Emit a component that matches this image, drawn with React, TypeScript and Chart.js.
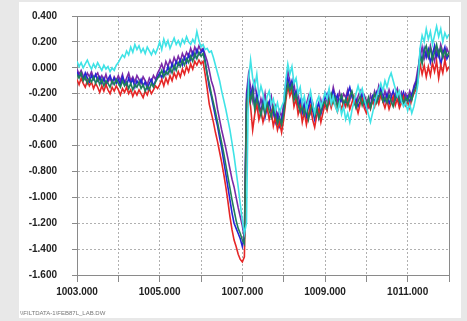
import React, { useEffect, useRef } from "react";
import { Chart, registerables } from "chart.js";

Chart.register(...registerables);

const X = [
  1003.0, 1003.05, 1003.1, 1003.15, 1003.2, 1003.25, 1003.3, 1003.35, 1003.4, 1003.45,
  1003.5, 1003.55, 1003.6, 1003.65, 1003.7, 1003.75, 1003.8, 1003.85, 1003.9, 1003.95,
  1004.0, 1004.05, 1004.1, 1004.15, 1004.2, 1004.25, 1004.3, 1004.35, 1004.4, 1004.45,
  1004.5, 1004.55, 1004.6, 1004.65, 1004.7, 1004.75, 1004.8, 1004.85, 1004.9, 1004.95,
  1005.0, 1005.05, 1005.1, 1005.15, 1005.2, 1005.25, 1005.3, 1005.35, 1005.4, 1005.45,
  1005.5, 1005.55, 1005.6, 1005.65, 1005.7, 1005.75, 1005.8, 1005.85, 1005.9, 1005.95,
  1006.0, 1006.05, 1006.1, 1006.15, 1006.2, 1006.25, 1006.3, 1006.35, 1006.4, 1006.45,
  1006.5, 1006.55, 1006.6, 1006.65, 1006.7, 1006.75, 1006.8, 1006.85, 1006.9, 1006.95,
  1007.0, 1007.05, 1007.1, 1007.15, 1007.2, 1007.25, 1007.3, 1007.35, 1007.4, 1007.45,
  1007.5, 1007.55, 1007.6, 1007.65, 1007.7, 1007.75, 1007.8, 1007.85, 1007.9, 1007.95,
  1008.0, 1008.05, 1008.1, 1008.15, 1008.2, 1008.25, 1008.3, 1008.35, 1008.4, 1008.45,
  1008.5, 1008.55, 1008.6, 1008.65, 1008.7, 1008.75, 1008.8, 1008.85, 1008.9, 1008.95,
  1009.0, 1009.05, 1009.1, 1009.15, 1009.2, 1009.25, 1009.3, 1009.35, 1009.4, 1009.45,
  1009.5, 1009.55, 1009.6, 1009.65, 1009.7, 1009.75, 1009.8, 1009.85, 1009.9, 1009.95,
  1010.0, 1010.05, 1010.1, 1010.15, 1010.2, 1010.25, 1010.3, 1010.35, 1010.4, 1010.45,
  1010.5, 1010.55, 1010.6, 1010.65, 1010.7, 1010.75, 1010.8, 1010.85, 1010.9, 1010.95,
  1011.0, 1011.05, 1011.1, 1011.15, 1011.2, 1011.25, 1011.3, 1011.35, 1011.4, 1011.45,
  1011.5, 1011.55, 1011.6, 1011.65, 1011.7, 1011.75, 1011.8, 1011.85, 1011.9, 1011.95,
  1012.0,
];

const CYAN = [
  0.05, 0.01, 0.04, 0.0, 0.03, 0.06, 0.02, -0.01, 0.03, 0.0,
  0.04, 0.01, -0.02, 0.02, -0.01, 0.01, -0.03, 0.0, -0.02, 0.02,
  0.04, 0.07, 0.1, 0.08, 0.13, 0.1, 0.16, 0.12, 0.18, 0.14,
  0.17, 0.12, 0.15, 0.11, 0.16, 0.13, 0.1, 0.14, 0.11, 0.15,
  0.2, 0.14, 0.22, 0.17, 0.21, 0.15, 0.19, 0.23, 0.18, 0.21,
  0.17, 0.22, 0.19, 0.24, 0.2, 0.18, 0.22, 0.19, 0.28, 0.21,
  0.16, 0.18, 0.14, 0.15, 0.12, 0.13, 0.08, 0.02, -0.04, -0.1,
  -0.18, -0.25, -0.32, -0.4, -0.48, -0.58, -0.68, -0.8, -0.92, -1.05,
  -1.18, -1.28, -1.2, -0.1, 0.06, -0.08, -0.15, -0.05, -0.22, -0.14,
  -0.2, -0.3, -0.22, -0.18, -0.28, -0.24, -0.33, -0.27, -0.35, -0.3,
  -0.26, -0.1, 0.03, -0.05, 0.01, -0.12, -0.08, -0.2, -0.15, -0.28,
  -0.22, -0.32, -0.25, -0.18, -0.28, -0.35, -0.26, -0.22, -0.3, -0.25,
  -0.19, -0.24, -0.16, -0.28, -0.22, -0.3, -0.34, -0.27, -0.36, -0.3,
  -0.4, -0.35, -0.42, -0.33, -0.26, -0.2, -0.14, -0.2, -0.16, -0.24,
  -0.3, -0.36, -0.42, -0.35, -0.28, -0.22, -0.17, -0.12, -0.18, -0.1,
  -0.15, -0.08, -0.04, -0.1, -0.16, -0.22, -0.18, -0.26, -0.3, -0.27,
  -0.33, -0.28, -0.35, -0.3, -0.22, -0.12, 0.15, 0.25, 0.2, 0.3,
  0.22, 0.28, 0.18, 0.25, 0.32, 0.24, 0.3, 0.2, 0.27, 0.23,
  0.26,
];

const GREEN = [
  -0.05, -0.08, -0.04, -0.1, -0.07, -0.12, -0.08, -0.11, -0.07, -0.12,
  -0.08, -0.13, -0.09, -0.14, -0.1, -0.12, -0.15, -0.1, -0.13, -0.09,
  -0.12, -0.15, -0.1, -0.14, -0.11, -0.16, -0.12, -0.17, -0.13, -0.15,
  -0.11, -0.16, -0.13, -0.18, -0.14, -0.17, -0.12, -0.15, -0.11, -0.08,
  -0.06, -0.02, -0.07, -0.03, -0.05, 0.0, -0.04, 0.02, -0.02, 0.04,
  0.01, 0.06, 0.02, 0.07, 0.04, 0.09, 0.05, 0.11, 0.07, 0.12,
  0.09, 0.11, 0.04, -0.05, -0.12, -0.2, -0.27, -0.34, -0.42, -0.5,
  -0.58, -0.66, -0.75, -0.84, -0.93, -1.02, -1.1, -1.18, -1.24, -1.28,
  -1.33, -1.36, -0.28, -0.14, -0.26, -0.18, -0.32, -0.24, -0.3, -0.37,
  -0.28, -0.35, -0.27, -0.33, -0.38, -0.3, -0.36, -0.43, -0.38, -0.44,
  -0.36, -0.22, -0.12, -0.18, -0.13, -0.25, -0.2, -0.28, -0.34, -0.29,
  -0.36, -0.3, -0.4, -0.33, -0.28, -0.37, -0.31, -0.39, -0.34, -0.28,
  -0.26, -0.31, -0.24, -0.2, -0.27, -0.23, -0.3, -0.25, -0.21, -0.28,
  -0.24, -0.29, -0.22, -0.18, -0.25, -0.31, -0.26, -0.22, -0.29, -0.24,
  -0.29, -0.23, -0.31, -0.25, -0.2, -0.27, -0.22, -0.19, -0.26, -0.23,
  -0.27, -0.21, -0.26, -0.3, -0.23, -0.19, -0.26, -0.22, -0.28, -0.23,
  -0.26, -0.21, -0.25, -0.18, -0.15, -0.08, 0.1, 0.03, 0.13, 0.17,
  0.09, 0.15, 0.06, 0.12, 0.18, 0.1, 0.15, 0.08, 0.13, 0.09,
  0.12,
];

const RED = [
  -0.09, -0.13, -0.08, -0.12, -0.15, -0.1, -0.14, -0.11, -0.16, -0.12,
  -0.15, -0.19, -0.14, -0.18, -0.13, -0.17, -0.2, -0.15, -0.18, -0.14,
  -0.17, -0.21, -0.16, -0.19, -0.15, -0.2, -0.17, -0.22, -0.18, -0.21,
  -0.17, -0.2, -0.23, -0.18, -0.21, -0.16, -0.2, -0.17, -0.14, -0.16,
  -0.13, -0.09, -0.14, -0.08, -0.12, -0.06, -0.1, -0.04, -0.08, -0.03,
  -0.07, -0.01, -0.05, 0.01, -0.03, 0.03, -0.01, 0.05, 0.02, 0.06,
  0.03, 0.05, -0.05, -0.16, -0.28, -0.35, -0.42, -0.5, -0.57, -0.65,
  -0.73, -0.82, -0.92, -1.03, -1.15, -1.25, -1.33, -1.38, -1.44, -1.48,
  -1.5, -1.46, -0.35, -0.2, -0.3, -0.48, -0.36, -0.28, -0.4, -0.33,
  -0.42, -0.35, -0.3, -0.4, -0.34, -0.45, -0.38, -0.48, -0.42, -0.5,
  -0.4, -0.26, -0.14, -0.22, -0.17, -0.3, -0.24, -0.36, -0.3, -0.42,
  -0.34, -0.44, -0.36, -0.3, -0.4, -0.46, -0.37, -0.32, -0.42, -0.35,
  -0.28, -0.33, -0.25, -0.31, -0.24, -0.29, -0.34, -0.27, -0.32, -0.26,
  -0.3, -0.24, -0.32, -0.27, -0.22, -0.29, -0.35, -0.28, -0.24, -0.31,
  -0.35, -0.28, -0.32, -0.25, -0.3, -0.23, -0.28, -0.21, -0.26, -0.31,
  -0.25, -0.32, -0.27, -0.22, -0.29, -0.24, -0.31, -0.27, -0.22, -0.29,
  -0.26, -0.31, -0.24, -0.2, -0.17, -0.1, 0.03, -0.05, 0.02, -0.07,
  0.01, -0.06, 0.04, -0.03, 0.05, -0.08, 0.02, -0.04, 0.06, -0.02,
  0.01,
];

const BLUE = [
  -0.03, -0.07, -0.05, -0.09, -0.04, -0.08, -0.11, -0.06, -0.09, -0.05,
  -0.1, -0.07, -0.12, -0.08, -0.13, -0.09, -0.06, -0.11, -0.08, -0.12,
  -0.09, -0.13, -0.07, -0.11, -0.14, -0.08, -0.12, -0.09, -0.15, -0.1,
  -0.13, -0.09, -0.14, -0.11, -0.16, -0.12, -0.09, -0.14, -0.1, -0.07,
  -0.04, -0.08, -0.02, -0.05, 0.01, -0.03, 0.03, -0.01, 0.05, 0.02,
  0.06, 0.02, 0.08, 0.04, 0.1, 0.06, 0.12, 0.08, 0.14, 0.1,
  0.12, 0.14, 0.06, -0.05, -0.15, -0.22, -0.3, -0.38, -0.45, -0.54,
  -0.62, -0.72, -0.82, -0.92, -1.02, -1.12, -1.2, -1.24, -1.28, -1.32,
  -1.38, -1.3, -0.25, -0.1, -0.22, -0.15, -0.3, -0.2, -0.28, -0.34,
  -0.25, -0.38, -0.3, -0.26, -0.35, -0.32, -0.42, -0.36, -0.45, -0.4,
  -0.33, -0.2, -0.08, -0.15, -0.1, -0.22, -0.18, -0.3, -0.25, -0.35,
  -0.28, -0.38, -0.3, -0.24, -0.33, -0.4, -0.32, -0.27, -0.36, -0.3,
  -0.24, -0.2, -0.27, -0.22, -0.18, -0.25, -0.21, -0.28, -0.23, -0.3,
  -0.26, -0.2, -0.15, -0.22, -0.28, -0.24, -0.3, -0.26, -0.2, -0.27,
  -0.32, -0.25, -0.29, -0.22, -0.27, -0.19, -0.24, -0.16, -0.21, -0.26,
  -0.2, -0.28, -0.23, -0.18, -0.25, -0.21, -0.28, -0.24, -0.19, -0.26,
  -0.22, -0.27, -0.2, -0.16, -0.12, -0.05, 0.12, 0.05, 0.15, 0.08,
  0.14, 0.04, 0.1, 0.17, 0.08, 0.13, 0.02, 0.11, 0.16, 0.07,
  0.1,
];

const PURPLE = [
  -0.01, -0.05, -0.02, -0.06, -0.09, -0.04, -0.07, -0.03, -0.08, -0.06,
  -0.04, -0.09, -0.06, -0.1, -0.05, -0.11, -0.08, -0.12, -0.07, -0.1,
  -0.06, -0.1, -0.05, -0.12, -0.08, -0.04, -0.1, -0.07, -0.11, -0.06,
  -0.09, -0.12, -0.07, -0.1, -0.13, -0.08, -0.11, -0.06, -0.09, -0.04,
  -0.01, 0.03, -0.02, 0.05, 0.01, 0.06, 0.02, 0.08, 0.04, 0.09,
  0.05, 0.11, 0.07, 0.12, 0.09, 0.15, 0.1, 0.16, 0.12, 0.17,
  0.13, 0.15, 0.1, 0.05, -0.02, -0.1, -0.15, -0.22, -0.32, -0.4,
  -0.48, -0.55, -0.62, -0.7, -0.78, -0.86, -0.92, -1.0, -1.08, -1.15,
  -1.22, -1.32, -0.2, -0.05, -0.15, -0.25, -0.12, -0.22, -0.32, -0.24,
  -0.3, -0.2, -0.33, -0.27, -0.22, -0.36, -0.3, -0.4, -0.33, -0.38,
  -0.28, -0.12, -0.02, -0.1, -0.18, -0.12, -0.25, -0.2, -0.32, -0.26,
  -0.35, -0.28, -0.22, -0.34, -0.27, -0.36, -0.29, -0.38, -0.25, -0.32,
  -0.2, -0.26, -0.18, -0.24, -0.15, -0.22, -0.27, -0.19, -0.25, -0.2,
  -0.23, -0.17, -0.25, -0.19, -0.24, -0.3, -0.22, -0.18, -0.26, -0.21,
  -0.25, -0.3, -0.21, -0.26, -0.18, -0.23, -0.14, -0.2, -0.25, -0.18,
  -0.24, -0.17, -0.22, -0.27, -0.2, -0.16, -0.23, -0.19, -0.25, -0.2,
  -0.24, -0.18, -0.23, -0.14, -0.1, 0.0, 0.08, 0.16, 0.07, 0.13,
  0.08, 0.17, 0.1, 0.05, 0.14, 0.09, 0.18, 0.12, 0.06, 0.15,
  0.11,
];

const X_MIN = 1003;
const X_MAX = 1012;
const Y_MIN = -1.6;
const Y_MAX = 0.4;
const FOOTNOTE = "\\\\FILTDATA-1\\FEB87L_LAB.DW";

const SERIES = [
  { name: "cyan", values: CYAN, color: "#3fe3e6" },
  { name: "green", values: GREEN, color: "#1f7f5a" },
  { name: "red", values: RED, color: "#e52626" },
  { name: "blue", values: BLUE, color: "#2424d6" },
  { name: "purple", values: PURPLE, color: "#7a2aa8" },
];

const frame = {
  id: "frame",
  afterDraw(chart: any) {
    const { ctx, chartArea } = chart;
    ctx.save();
    ctx.strokeStyle = "#8a8a8a";
    ctx.lineWidth = 1;
    ctx.beginPath();
    ctx.moveTo(chartArea.left - 5, Math.round(chartArea.top) + 0.5);
    ctx.lineTo(chartArea.right, Math.round(chartArea.top) + 0.5);
    ctx.moveTo(Math.round(chartArea.right) + 0.5, chartArea.top);
    ctx.lineTo(Math.round(chartArea.right) + 0.5, chartArea.bottom + 7);
    ctx.stroke();
    ctx.restore();
  },
};

export default function App() {
  const ref = useRef<HTMLCanvasElement | null>(null);

  useEffect(() => {
    document.body.style.margin = "0";
    const font = { family: "'Liberation Sans', Arial, sans-serif", size: 10, weight: "bold" as const };
    const chart = new Chart(ref.current as HTMLCanvasElement, {
      type: "line",
      data: {
        datasets: SERIES.map((s) => ({
          label: s.name,
          data: X.map((x, i) => ({ x, y: s.values[i] })),
          borderColor: s.color,
          backgroundColor: s.color,
          borderWidth: 1.6,
          pointRadius: 0,
          pointHoverRadius: 0,
          tension: 0,
          fill: false,
        })),
      },
      options: {
        responsive: false,
        animation: false,
        layout: { padding: { top: 0, right: 18, left: 0, bottom: 0 } },
        plugins: { legend: { display: false }, tooltip: { enabled: false } },
        scales: {
          x: {
            type: "linear",
            min: X_MIN,
            max: X_MAX,
            afterFit: (scale: any) => {
              scale.height = 46;
            },
            ticks: {
              stepSize: 1,
              autoSkip: false,
              maxRotation: 0,
              padding: 4,
              color: "#222",
              font,
              callback: (v: any) => (Number(v) % 2 === 1 ? Number(v).toFixed(3) : ""),
            },
            grid: {
              color: "#b0b0b0",
              lineWidth: 1,
              tickLength: 7,
              tickColor: "#8a8a8a",
              tickBorderDash: [],
            },
            border: { display: true, color: "#8a8a8a", width: 1, dash: [2, 2] },
          },
          y: {
            type: "linear",
            min: Y_MIN,
            max: Y_MAX,
            afterFit: (scale: any) => {
              scale.width = 77;
            },
            ticks: {
              stepSize: 0.2,
              padding: 15,
              color: "#222",
              font,
              callback: (v: any) => Number(v).toFixed(3),
            },
            grid: {
              color: "#b0b0b0",
              lineWidth: 1,
              tickLength: 5,
              tickColor: "#8a8a8a",
              tickBorderDash: [],
            },
            border: { display: true, color: "#8a8a8a", width: 1, dash: [2, 2] },
          },
        },
      },
      plugins: [frame],
    });
    return () => chart.destroy();
  }, []);

  return (
    <div style={{ position: "fixed", left: 0, top: 0, width: 467, height: 321, background: "#e8e8e8", overflow: "hidden" }}>
      <div style={{ position: "absolute", left: 19, top: 2, width: 442, height: 316, background: "#ffffff" }} />
      <canvas ref={ref} width={467} height={326} style={{ position: "absolute", left: 0, top: -5 }} />
      <div
        style={{
          position: "absolute",
          left: 20,
          top: 310,
          fontFamily: "'Liberation Sans', Arial, sans-serif",
          fontSize: 6,
          color: "#777",
          whiteSpace: "nowrap",
        }}
      >
        {FOOTNOTE}
      </div>
    </div>
  );
}
